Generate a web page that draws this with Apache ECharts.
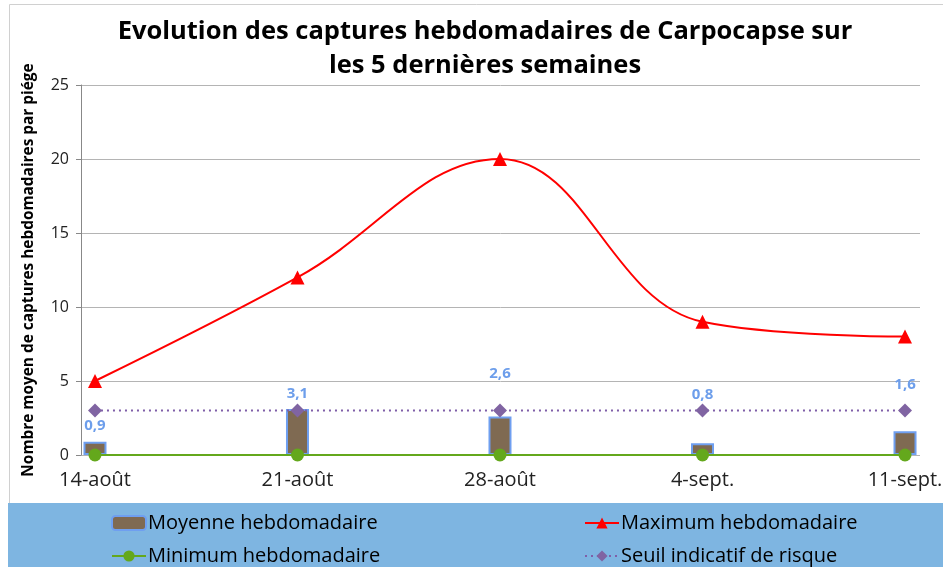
<!DOCTYPE html>
<html>
<head>
<meta charset="utf-8">
<script src="https://cdn.jsdelivr.net/npm/echarts@6/dist/echarts.min.js"></script>
<style>
html,body{margin:0;padding:0;background:#fff;}
#main{width:943px;height:567px;}
</style>
</head>
<body>
<div id="main"></div>
<script>
var weeks = ['14-août', '21-août', '28-août', '4-sept.', '11-sept.'];
var moyenne = [0.9, 3.1, 2.6, 0.8, 1.6];
var maximum = [5, 12, 20, 9, 8];
var minimum = [0, 0, 0, 0, 0];
var seuil = [3, 3, 3, 3, 3];
var yTicks = [0, 5, 10, 15, 20, 25];

// some labels were moved up by hand in the original to clear the threshold line
var labelLift = [0, 0, 27, 33, 31];

function pairs(arr) {
    return arr.map(function (v, i) { return [i, v]; });
}

var font = '"Open Sans", sans-serif';
var myChart = echarts.init(document.getElementById('main'));

function oneLegend(name, left, top) {
    return {
        left: left, top: top,
        itemWidth: 34, itemHeight: 14, itemGap: 4,
        textStyle: {fontSize: 20, color: '#000', fontFamily: font, padding: [0, 0, 0, -3]},
        data: [name]
    };
}

var option = {
    backgroundColor: '#fff',
    animation: false,
    textStyle: {fontFamily: font},
    graphic: [
        {type: 'rect', left: 7, top: 2, shape: {width: 935, height: 564},
            style: {fill: 'none', stroke: '#d0d0d0', lineWidth: 1}, z: -1},
        {type: 'rect', left: 8, top: 503, shape: {width: 935, height: 64},
            style: {fill: '#7eb5e1'}, z: -1}
    ],
    title: {
        text: 'Evolution des captures hebdomadaires de Carpocapse sur\nles 5 dernières semaines',
        left: 480,
        textAlign: 'center',
        top: 10,
        textStyle: {fontSize: 25.5, fontWeight: 'bold', color: '#000', lineHeight: 34, fontFamily: font}
    },
    legend: [
        oneLegend('Moyenne hebdomadaire', 106, 508),
        oneLegend('Minimum hebdomadaire', 106, 541),
        oneLegend('Maximum hebdomadaire', 579, 508),
        oneLegend('Seuil indicatif de risque', 579, 541)
    ],
    grid: {left: 81, right: 23, top: 85, bottom: 112, containLabel: false, outerBoundsMode: 'none'},
    xAxis: {
        type: 'value',
        min: -0.069,
        max: 4.074,
        splitLine: {show: false},
        axisLine: {show: false},
        axisTick: {show: false},
        axisLabel: {
            showMinLabel: false,
            showMaxLabel: false,
            fontSize: 20, color: '#222', margin: 15, fontFamily: font,
            formatter: function (v) {
                var i = Math.round(v);
                return Math.abs(v - i) < 1e-6 && weeks[i] ? weeks[i] : '';
            }
        }
    },
    yAxis: {
        type: 'value',
        min: yTicks[0],
        max: yTicks[yTicks.length - 1],
        interval: yTicks[1] - yTicks[0],
        name: 'Nombre moyen de captures hebdomadaires par piége',
        nameLocation: 'middle',
        nameGap: 45,
        nameTextStyle: {fontSize: 15.4, fontWeight: 'bold', color: '#000', fontFamily: font},
        axisLine: {show: true, onZero: false, lineStyle: {color: '#888'}},
        axisTick: {show: true, length: 5, lineStyle: {color: '#888'}},
        axisLabel: {fontSize: 16, color: '#222', margin: 12, fontFamily: font},
        splitLine: {lineStyle: {color: '#b4b4b4'}}
    },
    series: [
        {
            name: 'Moyenne hebdomadaire',
            type: 'bar',
            barWidth: 23,
            itemStyle: {color: '#7f6a52', borderColor: '#6f9ff0', borderWidth: 2},
            data: moyenne.map(function (v, i) {
                return {
                    value: [i, v],
                    label: {offset: [0, -labelLift[i]]}
                };
            }),
            label: {
                show: true, position: 'top', distance: 8,
                color: '#6d9eeb', fontWeight: 'bold', fontSize: 15, fontFamily: font,
                formatter: function (p) { return String(p.value[1]).replace('.', ','); }
            },
            z: 2
        },
        {
            name: 'Maximum hebdomadaire',
            type: 'line',
            smooth: 0.4,
            symbol: 'triangle',
            symbolSize: 14,
            itemStyle: {color: '#ff0000'},
            lineStyle: {color: '#ff0000', width: 2},
            data: pairs(maximum),
            z: 4
        },
        {
            name: 'Minimum hebdomadaire',
            type: 'line',
            symbol: 'circle',
            symbolSize: 13,
            itemStyle: {color: '#64a81c'},
            lineStyle: {color: '#64a81c', width: 2},
            data: pairs(minimum),
            z: 5
        },
        {
            name: 'Seuil indicatif de risque',
            type: 'line',
            symbol: 'diamond',
            symbolSize: 14,
            itemStyle: {color: '#8064a2'},
            lineStyle: {color: '#7f5fa8', width: 2, type: [2, 4]},
            data: pairs(seuil),
            z: 4
        }
    ]
};
myChart.setOption(option);
</script>
</body>
</html>
